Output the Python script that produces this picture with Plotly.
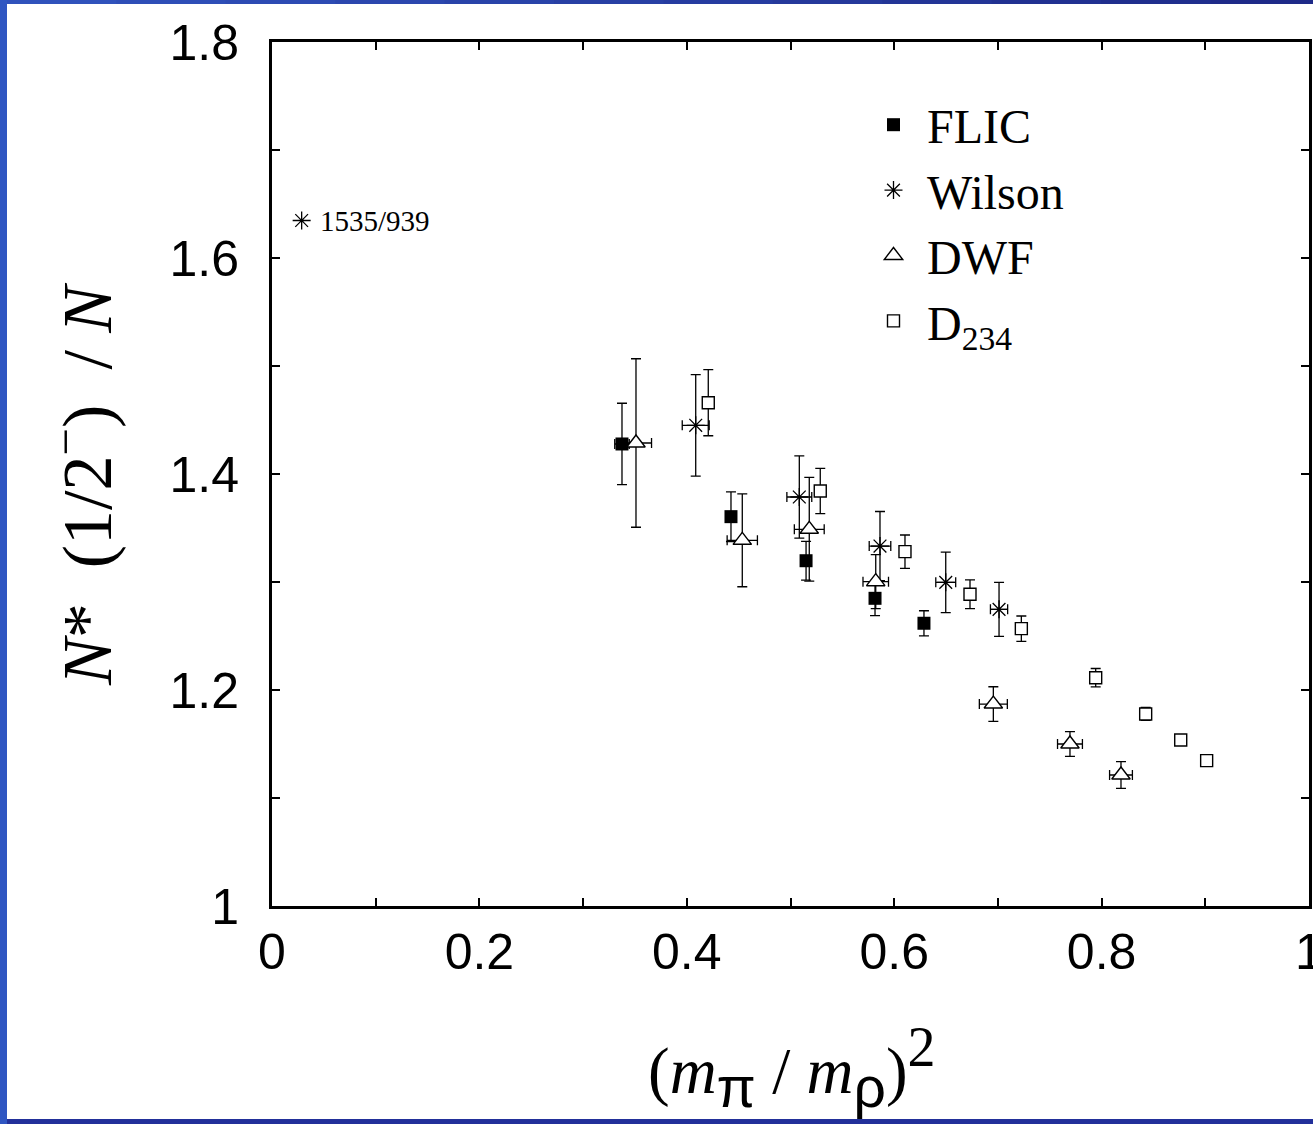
import plotly.graph_objects as go

# ---- data ----
flic_x = [0.3375, 0.4426, 0.5150, 0.5815, 0.6287]
flic_y = [1.4278, 1.3605, 1.3197, 1.2849, 1.2618]
flic_ey = [0.0377, 0.023, 0.018, 0.016, 0.0116]
flic_ex = [0.007, 0.0, 0.0, 0.0, 0.0]

wil_x = [0.4086, 0.5085, 0.5863, 0.6497, 0.7011]
wil_y = [1.4451, 1.3787, 1.3333, 1.2997, 1.2747]
wil_ey = [0.047, 0.038, 0.032, 0.028, 0.025]
wil_ex = [0.013, 0.012, 0.0104, 0.0096, 0.0083]

dwf_x = [0.3510, 0.4535, 0.5181, 0.5822, 0.6956, 0.7695, 0.8187]
dwf_y = [1.4287, 1.3386, 1.3488, 1.3003, 1.1870, 1.1500, 1.1213]
dwf_ey = [0.078, 0.043, 0.048, 0.025, 0.016, 0.0114, 0.0123]
dwf_ex = [0.015, 0.0146, 0.0144, 0.0123, 0.0135, 0.012, 0.011]

d234_x = [0.4207, 0.5287, 0.6104, 0.6731, 0.7226, 0.7943, 0.8425, 0.8763, 0.9013]
d234_y = [1.466, 1.3843, 1.3281, 1.2886, 1.2568, 1.2114, 1.1778, 1.1537, 1.1346]
d234_ey = [0.0306, 0.021, 0.0154, 0.0133, 0.0117, 0.0085, 0.006, 0.0, 0.0]

exp_x = [0.0286]
exp_y = [1535 / 939]
exp_label = "1535/939"

x_ticks = [0, 0.2, 0.4, 0.6, 0.8, 1]
x_ticktext = ["0", "0.2", "0.4", "0.6", "0.8", "1"]
y_ticks = [1.0, 1.2, 1.4, 1.6, 1.8]
y_ticktext = ["1", "1.2", "1.4", "1.6", "1.8"]

SERIF = "Liberation Serif, Times New Roman, serif"
SANS = "Liberation Sans, Arial, sans-serif"

def ebar(arr, w=5):
    return dict(type="data", array=arr, visible=True, color="black", thickness=1.3, width=w)

fig = go.Figure()
fig.add_trace(go.Scatter(
    x=flic_x, y=flic_y, mode="markers", name="FLIC",
    marker=dict(symbol="square", size=13, color="black", line=dict(width=0)),
    error_y=ebar(flic_ey), error_x=ebar(flic_ex)))
fig.add_trace(go.Scatter(
    x=wil_x, y=wil_y, mode="markers", name="Wilson",
    marker=dict(symbol="asterisk-open", size=15, color="black", line=dict(width=1.3, color="black")),
    error_y=ebar(wil_ey), error_x=ebar(wil_ex)))
fig.add_trace(go.Scatter(
    x=dwf_x, y=dwf_y, mode="markers", name="DWF",
    marker=dict(symbol="triangle-up", size=16, color="white", line=dict(width=1.4, color="black")),
    error_y=ebar(dwf_ey), error_x=ebar(dwf_ex)))
fig.add_trace(go.Scatter(
    x=d234_x, y=d234_y, mode="markers", name="D<sub>234</sub>",
    marker=dict(symbol="square", size=12, color="white", line=dict(width=1.4, color="black")),
    error_y=ebar(d234_ey)))
fig.add_trace(go.Scatter(
    x=exp_x, y=exp_y, mode="markers", showlegend=False,
    marker=dict(symbol="asterisk-open", size=15, color="black", line=dict(width=1.3, color="black"))))

fig.add_annotation(x=exp_x[0], y=exp_y[0], xref="x", yref="y", text=exp_label,
                   showarrow=False, xanchor="left", yanchor="middle", xshift=16,
                   font=dict(family=SERIF, size=29, color="black"))

axis_common = dict(showline=True, linewidth=3, linecolor="black", mirror="ticks",
                   ticks="inside", ticklen=8, tickwidth=2, tickcolor="black",
                   showgrid=False, zeroline=False, ticklabeloverflow="allow",
                   automargin=False,
                   tickfont=dict(family=SANS, size=50, color="black"))

fig.update_xaxes(range=[0, 1], tickvals=x_ticks, ticktext=x_ticktext,
                 minor=dict(dtick=0.1, ticks="inside", ticklen=8, tickwidth=2, tickcolor="black"),
                 **axis_common)
fig.update_yaxes(range=[1.0, 1.8], tickvals=y_ticks, ticktext=y_ticktext,
                 minor=dict(dtick=0.1, ticks="inside", ticklen=8, tickwidth=2, tickcolor="black"),
                 ticklabelstandoff=20,
                 **axis_common)

def px_x(p):
    return (p - 272) / 1037
def px_y(p):
    return (906 - p) / 864

# axis titles
SUBSTYLE = "font-family:Liberation Sans, Arial, sans-serif;font-size:57px"
xtitle = ("(<i>m</i><sub><span style='%s'>π</span></sub> / <i>m</i>"
          "<sub><span style='%s'>ρ</span></sub>)<sup><span style='font-size:56px'>2</span></sup>") % (SUBSTYLE, SUBSTYLE)
fig.add_annotation(xref="paper", yref="paper", x=px_x(792), y=px_y(1067),
                   text=xtitle,
                   showarrow=False, xanchor="center", yanchor="middle",
                   font=dict(family=SERIF, size=65, color="black"))
SP = "\u2002"
fig.add_annotation(xref="paper", yref="paper", x=px_x(82), y=px_y(485),
                   text="<i>N</i>*" + SP + "(1/2<sup>−</sup>)" + SP + "/" + " " + "<i>N</i>",
                   textangle=-90, showarrow=False, xanchor="center", yanchor="middle",
                   font=dict(family=SERIF, size=70, color="black"))

# slide border strips
LEFT_BLUE = "#2F56C2"
fig.add_shape(type="rect", xref="paper", yref="paper", x0=px_x(-5), x1=px_x(7), y0=px_y(1130), y1=px_y(-5),
              fillcolor=LEFT_BLUE, line=dict(width=0), layer="above")
c0 = (0x30, 0x52, 0xBC)
c1 = (0x1E, 0x2A, 0x88)
nseg = 12
for i in range(nseg):
    t = i / (nseg - 1)
    col = "rgb(%d,%d,%d)" % tuple(round(a + (b - a) * t) for a, b in zip(c0, c1))
    xa = 7 + (1320 - 7) * i / nseg
    xb = 7 + (1320 - 7) * (i + 1) / nseg + 1
    fig.add_shape(type="rect", xref="paper", yref="paper", x0=px_x(xa), x1=px_x(xb), y0=px_y(4), y1=px_y(-5),
                  fillcolor=col, line=dict(width=0), layer="above")
fig.add_shape(type="rect", xref="paper", yref="paper", x0=px_x(7), x1=px_x(1320), y0=px_y(1130), y1=px_y(1119),
              fillcolor="#22309A", line=dict(width=0), layer="above")

fig.update_layout(
    width=1313, height=1124,
    margin=dict(l=272, r=4, t=42, b=218, autoexpand=False),
    paper_bgcolor="white", plot_bgcolor="white",
    showlegend=True,
    legend=dict(x=px_x(860), y=px_y(87), xanchor="left", yanchor="top",
                font=dict(family=SERIF, size=48, color="black"),
                bgcolor="rgba(0,0,0,0)", borderwidth=0, itemsizing="trace", itemwidth=57),
)

fig.write_html("out.html", config={"displayModeBar": False},
               post_script="document.body.style.margin='0';document.body.style.padding='0';"
                           "document.body.style.overflow='hidden';")
